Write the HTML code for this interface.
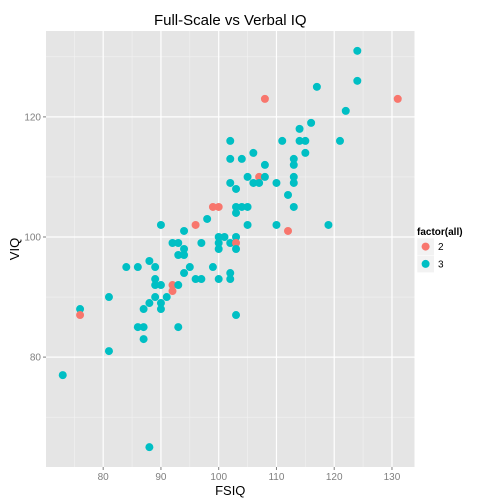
<!DOCTYPE html>
<html><head><meta charset="utf-8"><style>
body{margin:0;background:#fff;}
svg{font-family:"Liberation Sans",sans-serif;display:block;}
</style></head><body>
<svg id="chart" width="504" height="504"></svg>
<script>
const fsiq = [124,124,117,108,131,122,116,114,102,111,114,115,121,106,115,102,104,113,108,113,105,107,108,113,102,106,107,110,113,103,112,99,100,103,104,105,113,103,98,90,96,105,110,119,94,112,100,101,103,92,93,97,100,102,103,94,100,103,93,94,88,84,86,89,95,99,94,102,96,97,100,102,89,89,90,92,93,92,81,89,91,88,90,76,87,90,76,103,86,87,93,87,81,73,88];
const viq  = [131,126,125,123,123,121,119,118,116,116,116,116,116,114,114,113,113,113,112,112,110,110,110,110,109,109,109,109,109,108,107,105,105,105,105,105,105,104,103,102,102,102,102,102,101,101,100,100,100,99,99,99,99,99,99,98,98,98,97,97,96,95,95,95,95,95,94,94,93,93,93,93,93,92,92,92,92,91,90,90,90,89,89,88,88,88,87,87,85,85,85,83,81,77,65];
const group= [3,3,3,2,2,3,3,3,3,3,3,3,3,3,3,3,3,3,3,3,3,2,3,3,3,3,3,3,3,3,3,2,2,3,3,3,3,3,3,3,2,3,3,3,3,2,3,3,3,3,3,3,3,3,2,3,3,3,3,3,3,3,3,3,3,3,3,3,3,3,3,3,3,3,3,2,3,2,3,3,3,3,3,3,3,3,2,3,3,3,3,3,3,3,3];
const xTicks=[80,90,100,110,120,130];
const yTicks=[80,100,120];
const groups=[2,3];
const colors={2:"#F8766D",3:"#00BFC4"};

const svg=document.getElementById('chart');
const NS="http://www.w3.org/2000/svg";
const L=46,R=414.5,T=31,B=467;
const xMin=70.1,xMax=133.9,yMin=61.7,yMax=134.3;
const X=v=>L+(v-xMin)/(xMax-xMin)*(R-L);
const Y=v=>B-(v-yMin)/(yMax-yMin)*(B-T);
function mk(tag,attrs,parent){const e=document.createElementNS(NS,tag);for(const k in attrs)e.setAttribute(k,attrs[k]);(parent||svg).appendChild(e);return e;}

const panel=mk('rect',{x:L,y:T,width:R-L,height:B-T,fill:'#E5E5E5'});


for(let v=75;v<=130;v+=10){const l=mk('line',{x1:X(v),x2:X(v),y1:T,y2:B,stroke:'#F2F2F2','stroke-width':0.6});

}
for(let v=70;v<=130;v+=20){const l=mk('line',{x1:L,x2:R,y1:Y(v),y2:Y(v),stroke:'#F2F2F2','stroke-width':0.6});

}
xTicks.forEach(v=>{const l=mk('line',{x1:X(v),x2:X(v),y1:T,y2:B,stroke:'#fff','stroke-width':1.2});


const tk=mk('line',{x1:X(v),x2:X(v),y1:B,y2:B+3,stroke:'#7f7f7f'});


const t=mk('text',{x:X(v),y:B+13,'font-size':10,fill:'#7f7f7f','text-anchor':'middle'});t.textContent=v;

});
yTicks.forEach(v=>{const l=mk('line',{x1:L,x2:R,y1:Y(v),y2:Y(v),stroke:'#fff','stroke-width':1.2});


const tk=mk('line',{x1:L-3,x2:L,y1:Y(v),y2:Y(v),stroke:'#7f7f7f'});


const t=mk('text',{x:L-5,y:Y(v)+3.5,'font-size':10,fill:'#7f7f7f','text-anchor':'end'});t.textContent=v;

});
fsiq.forEach((v,i)=>{const c=mk('circle',{cx:X(v),cy:Y(viq[i]),r:4,fill:colors[group[i]]});

});

const title=mk('text',{x:(L+R)/2,y:25,'font-size':15,fill:'#000','text-anchor':'middle'});title.textContent='Full-Scale vs Verbal IQ';


const xt=mk('text',{x:(L+R)/2,y:495,'font-size':13,fill:'#000','text-anchor':'middle'});xt.textContent='FSIQ';


const yt=mk('text',{x:0,y:0,'font-size':13,fill:'#000','text-anchor':'middle',transform:`translate(19,${(T+B)/2}) rotate(-90)`});yt.textContent='VIQ';



const lt=mk('text',{x:417,y:235,'font-size':10,'font-weight':'bold',fill:'#000'});lt.textContent='factor(all)';


groups.forEach((g,i)=>{const y0=238+i*17.3;
const bx=mk('rect',{x:417,y:y0,width:17.3,height:17.3,fill:'#F2F2F2',stroke:'#fff','stroke-width':0.5});


const c=mk('circle',{cx:425.6,cy:y0+8.6,r:4,fill:colors[g]});


const t=mk('text',{x:438,y:y0+12,'font-size':10,fill:'#000'});t.textContent=g;

});
</script>
</body></html>
